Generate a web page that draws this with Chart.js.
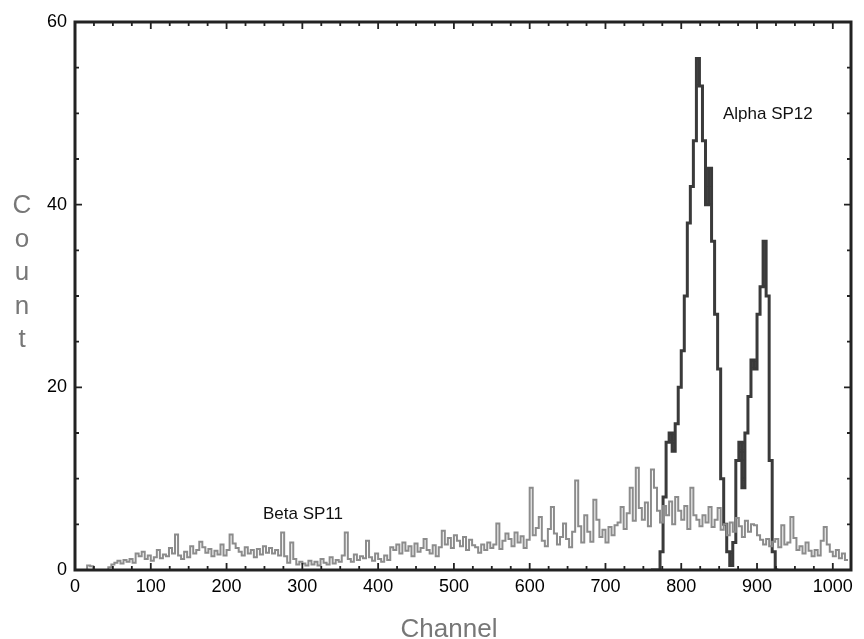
<!DOCTYPE html>
<html>
<head>
<meta charset="utf-8">
<script src="https://cdn.jsdelivr.net/npm/chart.js@4"></script>
<style>
 html,body{margin:0;padding:0;background:#fff;}
 #wrap{width:864px;height:639px;position:relative;}
</style>
</head>
<body>
<div id="wrap"><canvas id="spec"></canvas></div>
<script>
// spectrum data, counts per 4-channel bin
const binWidth = 4;
const betaStart = 0;
const betaCounts = [
 0,0,0,0,0,0.5,0.4,0,0,0,0,0,0.3,
 0.6,0.8,1,0.7,1.1,0.9,1.2,0.8,
 1.8,1.5,2,1.2,1.6,1,1.4,2.2,1.3,1.7,
 1.5,2.4,1.8,3.9,
 1.6,1.2,2,1.4,2.6,1.8,2.2,3.1,2.5,1.9,2.3,
 1.5,2.1,1.7,2.8,1.6,2.2,3.9,2.9,
 2.4,2,1.6,2.5,1.8,2.2,1.4,2.3,1.7,2.6,1.9,2.4,
 1.8,2.2,1.6,4.1,1.5,
 0.8,3,1.2,0.6,0.9,
 0.7,0.5,1,0.6,0.9,0.5,1.2,0.8,0.6,1.4,0.7,1.1,0.9,1.6,4.1,
 1.2,0.9,1.7,1.1,1.5,1.3,
 3.2,
 1.4,1,1.8,1.2,0.9,1.6,1.1,2.5,
 2.2,2.8,1.8,3,2.1,2.6,1.5,2.9,2,2.4,
 3.4,2.2,
 1.8,2.7,1.5,2.5,4.3,
 2.8,3.5,2.4,3.8,3.2,2.6,3.6,2.2,3.3,2.7,
 2.5,1.9,2.8,2.2,3,2.4,2.8,5.1,2.3,
 3.2,4,3.4,2.6,4.1,3,3.7,2.4,3.3,
 9,
 3.8,4.6,5.8,
 3.2,2.6,4.5,6.9,
 4,2.8,3.6,5.1,
 3.4,2.5,4.2,9.8,4.8,
 3,6,4.2,3.1,
 7.7,5.5,3.6,4.4,
 3,4.7,3.8,4.9,
 5.2,6.9,4.5,
 6.2,9,5.4,11.2,
 6.8,5.5,7.4,4.8,11,
 9,6.5,5.2,7,
 6,7.5,5,8,6.5,5.5,7,4.5,9,6,
 5.5,4.8,6,5.2,6.9,4.7,5.5,
 6.8,4.4,5,3.8,5.2,4.2,
 5.7,4.8,3.6,5.4,4.2,5,
 4.9,3.8,3.3,2.8,3.4,
 2.6,3.1,3.4,2.5,4.9,2.8,3,
 5.8,3.5,2.2,2.6,1.8,
 3,2.1,1.5,2.2,1.6,
 3.2,4.7,2.8,2,
 1.5,2.2,1.3,1.8,1.1
];
const alphaStart = 760;
const alphaCounts = [
 0,0,0,0,2,8,14,15,13,16,
 20,24,30,38,42,47,56,53,47,40,
 44,36,28,22,10,5,2,0.5,3,12,
 14,9,15,19,23,22,28,31,36,30,
 12,2,0
];
const xTicks = [0,100,200,300,400,500,600,700,800,900,1000];
const yTicks = [0,20,40,60];
const xMax = 1024, yMax = 60;
const xMinorStep = 25, yMinorStep = 5;
const seriesNames = ['Beta SP11','Alpha SP12'];

const toPoints = (start, arr) => arr.map((v,i)=>({x:start+i*binWidth,y:v}));
const FONT = '"Liberation Sans", Arial, sans-serif';

const frame = {
 id:'frame',
 afterDatasetsDraw(chart){
  const {ctx, chartArea:a, scales:{x,y}} = chart;
  ctx.save();
  ctx.strokeStyle='#222';
  ctx.lineWidth=1.8;
  ctx.beginPath();
  for(let v=0; v<=yMax; v+=yMinorStep){
   const py=y.getPixelForValue(v), len = v%20 ? 4 : 7;
   ctx.moveTo(a.left,py); ctx.lineTo(a.left+len,py);
   ctx.moveTo(a.right,py); ctx.lineTo(a.right-len,py);
  }
  for(let v=0; v<=1000; v+=xMinorStep){
   const px=x.getPixelForValue(v), len = v%100 ? 4 : 7;
   ctx.moveTo(px,a.top); ctx.lineTo(px,a.top+len);
   ctx.moveTo(px,a.bottom); ctx.lineTo(px,a.bottom-len);
  }
  ctx.stroke();
  ctx.lineWidth=3;
  ctx.strokeRect(a.left,a.top,a.right-a.left,a.bottom-a.top);
  // series labels
  ctx.fillStyle='#111';
  ctx.font='17px '+FONT;
  ctx.textAlign='left';
  ctx.textBaseline='alphabetic';
  ctx.fillText(seriesNames[1], x.getPixelForValue(855), y.getPixelForValue(49.4));
  ctx.fillText(seriesNames[0], x.getPixelForValue(248), y.getPixelForValue(5.6));
  // stacked y title
  ctx.fillStyle='#777';
  ctx.font='26px '+FONT;
  ctx.textAlign='center';
  'Count'.split('').forEach((ch,i)=>ctx.fillText(ch, 22, 213+i*33.5));
  // x title
  ctx.fillText('Channel', 449, 637);
  ctx.restore();
 }
};

new Chart(document.getElementById('spec'),{
 type:'line',
 data:{
  datasets:[
   {
    label:seriesNames[0],
    data:toPoints(betaStart,betaCounts),
    borderColor:'#8c8c8c',
    borderWidth:2,
    stepped:'after',
    pointRadius:0,
    fill:false
   },
   {
    label:seriesNames[1],
    data:toPoints(alphaStart,alphaCounts),
    borderColor:'#3a3a3a',
    borderWidth:3,
    stepped:'after',
    pointRadius:0,
    fill:false
   }
  ]
 },
 options:{
  responsive:true,
  maintainAspectRatio:false,
  animation:false,
  layout:{padding:{left:0,right:13,top:22,bottom:0}},
  plugins:{legend:{display:false},tooltip:{enabled:false}},
  scales:{
   x:{
    type:'linear',min:0,max:xMax,
    grid:{display:false,drawTicks:false},
    border:{display:false},
    afterBuildTicks:s=>{s.ticks=xTicks.map(v=>({value:v}));},
    afterFit:s=>{s.height=69;},
    ticks:{color:'#000',padding:6,maxRotation:0,autoSkip:false,callback:v=>String(v),font:{size:18,family:FONT}}
   },
   y:{
    min:0,max:yMax,
    grid:{display:false,drawTicks:false},
    border:{display:false},
    afterBuildTicks:s=>{s.ticks=yTicks.map(v=>({value:v}));},
    afterFit:s=>{s.width=75;},
    ticks:{color:'#000',padding:8,font:{size:18,family:FONT}}
   }
  }
 },
 plugins:[frame]
});
</script>
</body>
</html>
